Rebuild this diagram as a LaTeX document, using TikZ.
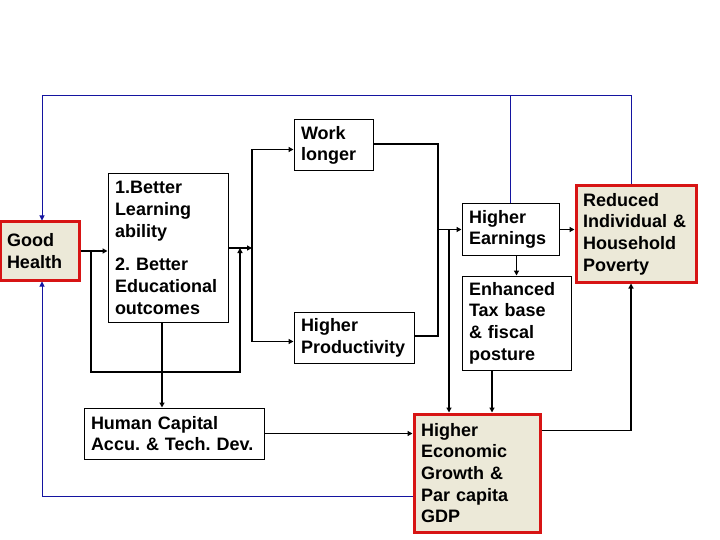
\documentclass[tikz,border=0pt]{standalone}
\usepackage{fontspec}
\setmainfont{Liberation Sans}
\usetikzlibrary{arrows.meta}

\definecolor{boxfill}{RGB}{236,233,216}
\definecolor{boxred}{RGB}{215,20,20}
\definecolor{loopblue}{RGB}{20,20,160}

\tikzset{
  box/.style={draw, line width=1pt, inner xsep=7pt, inner ysep=0pt, align=left,
    font=\fontsize{18}{21.7}\selectfont\bfseries\frenchspacing},
  keybox/.style={box, draw=boxred, fill=boxfill, line width=3pt},
  link/.style={line width=1.4pt, -{Triangle[length=5pt,width=5pt]}},
  plain/.style={line width=1.4pt},
  fb/.style={draw=loopblue, line width=1pt},
  fbarr/.style={fb, -{Triangle[length=5pt,width=5pt]}}
}

\begin{document}
\begin{tikzpicture}[x=1pt,y=-1pt]
\useasboundingbox (0,0) rectangle (720,540);

% boxes
\node[keybox, text width=65pt, minimum height=58pt] (gh) at (39.5,251) {Good\\Health};
\node[box, text width=106pt, minimum height=148pt] (edu) at (168,248)
  {1.Better\\Learning\\ability\\[12pt]2. Better\\Educational\\outcomes};
\node[box, text width=65pt, minimum height=51pt] (work) at (333.5,145.5) {Work\\longer};
\node[box, text width=106pt, minimum height=51pt] (prod) at (354,337.5) {Higher\\Productivity};
\node[box, text width=166pt, minimum height=51pt] (hc) at (174,433.5) {Human Capital\\Accu. \& Tech. Dev.};
\node[box, text width=83pt, minimum height=51pt] (earn) at (510.5,229.5) {Higher\\Earnings};
\node[box, text width=95pt, minimum height=94pt] (tax) at (516.5,323) {Enhanced\\Tax base\\\& fiscal\\posture};
\node[keybox, text width=112pt, minimum height=118pt] (growth) at (477,473)
  {Higher\\Economic\\Growth \&\\Par capita\\GDP};
\node[keybox, text width=106pt, minimum height=96pt] (poverty) at (636,234)
  {Reduced\\Individual \&\\Household\\Poverty};

% junctions
\coordinate (tap) at (91,251);
\coordinate (loopbot) at (240,372);
\coordinate (rejoin) at (240,248);
\coordinate (fork) at (252,248);
\coordinate (merge) at (438,229.5);
\coordinate (drop) at (449,229.5);

% health to education and onwards
\draw[link] (gh.east) -- (gh.east -| edu.west);
\draw[link] (tap) |- (loopbot) -- (rejoin);
\draw[link] (edu.east) -- (fork);
\draw[link] (fork) |- ([yshift=-4]work.west);
\draw[link] (fork) |- ([yshift=-4]prod.west);
\draw[link] ([xshift=-6]edu.south) -- ([xshift=-6]edu.south |- hc.north);

% earnings side
\draw[plain] ([yshift=1.5]work.east) -| (merge);
\draw[plain] ([yshift=1.5]prod.east) -| (merge);
\draw[link] (merge) -- (earn.west);
\draw[link] (drop) -- (drop |- growth.north);
\draw[link] (earn.east) -- (earn.east -| poverty.west);
\draw[link] (earn.south -| tax.north) -- (tax.north);
\draw[link] ([xshift=-24.5]tax.south) -- ([xshift=-24.5]tax.south |- growth.north);
\draw[link] (hc.east) -- (hc.east -| growth.west);
\draw[link] ([yshift=-18]growth.north east) -| ([xshift=-5]poverty.south);

% feedback loops
\draw[fb] (earn.north) -- (earn.north |- 0,96);
\draw[fbarr] ([xshift=-5]poverty.north) |- ([xshift=2.5]gh.north |- 0,96) -- ([xshift=2.5]gh.north);
\draw[fbarr] ([yshift=-84]growth.north west) -| ([xshift=2.5]gh.south);
\end{tikzpicture}
\end{document}
